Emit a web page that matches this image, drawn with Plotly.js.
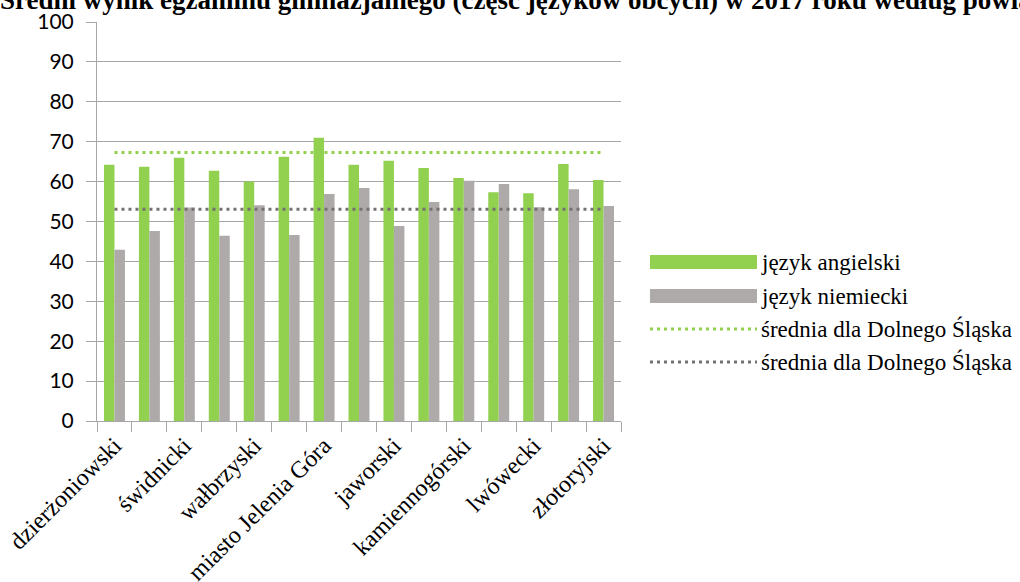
<!DOCTYPE html>
<html>
<head>
<meta charset="utf-8">
<script src="https://cdn.plot.ly/plotly-3.0.1.min.js"></script>
<style>html,body{margin:0;padding:0;background:#fff;}#chart{width:1020px;height:582px;}</style>
</head>
<body>
<div id="chart"></div>
<script>
// Data
var categories = ["dzierżoniowski","kłodzki","świdnicki","ząbkowicki","wałbrzyski","miasto Wałbrzych","miasto Jelenia Góra","jeleniogórski","jaworski","lubański","kamiennogórski","zgorzelecki","lwówecki","bolesławiecki","złotoryjski"];
var tickLabels = ["dzierżoniowski","","świdnicki","","wałbrzyski","","miasto Jelenia Góra","","jaworski","","kamiennogórski","","lwówecki","","złotoryjski"];
var angielski = [64.2,63.7,66.0,62.7,60.0,66.2,71.0,64.2,65.2,63.4,60.9,57.3,57.1,64.4,60.4];
var niemiecki = [42.9,47.6,53.5,46.4,54.1,46.6,56.9,58.4,48.9,54.9,60.2,59.4,53.6,58.1,53.9];
var sredniaAngielski = 67.3;
var sredniaNiemiecki = 53.1;
var seriesNames = ["język angielski","język niemiecki","średnia dla Dolnego Śląska","średnia dla Dolnego Śląska"];
var titleText = "Średni wynik egzaminu gimnazjalnego (część języków obcych) w 2017 roku według powiatów";

var green = "#92D050", grey = "#AEAAAA", greenDot = "#92D050", greyDot = "#767171";
var serif = "'Liberation Serif', 'Times New Roman', serif";

var traces = [
  {type:"bar", x:categories, y:angielski, name:seriesNames[0], marker:{color:green}, showlegend:false},
  {type:"bar", x:categories, y:niemiecki, name:seriesNames[1], marker:{color:grey}, showlegend:false},
  {type:"scatter", mode:"lines", x:categories, y:categories.map(function(){return sredniaAngielski;}), name:seriesNames[2], line:{color:greenDot, width:3, dash:"3px,4px"}, showlegend:false},
  {type:"scatter", mode:"lines", x:categories, y:categories.map(function(){return sredniaNiemiecki;}), name:seriesNames[3], line:{color:greyDot, width:3, dash:"3px,4px"}, showlegend:false}
];

// layout helpers (pixel -> paper)
var L=97, R=621, T=22, B=421;
function px(x){return (x-L)/(R-L);}
function py(y){return (B-y)/(B-T);}

var legRows = [262, 296, 329, 362];
var shapes = [
  {type:"rect", xref:"paper", yref:"paper", x0:px(650), x1:px(757), y0:py(legRows[0]-7), y1:py(legRows[0]+7), fillcolor:green, line:{width:0}},
  {type:"rect", xref:"paper", yref:"paper", x0:px(650), x1:px(757), y0:py(legRows[1]-7), y1:py(legRows[1]+7), fillcolor:grey, line:{width:0}},
  {type:"line", xref:"paper", yref:"paper", x0:px(650), x1:px(757), y0:py(legRows[2]), y1:py(legRows[2]), line:{color:greenDot, width:3, dash:"3px,4px"}},
  {type:"line", xref:"paper", yref:"paper", x0:px(650), x1:px(757), y0:py(legRows[3]), y1:py(legRows[3]), line:{color:greyDot, width:3, dash:"3px,4px"}}
];
var annotations = seriesNames.map(function(n,i){
  return {xref:"paper", yref:"paper", x:px(759), y:py(legRows[i]), xanchor:"left", yanchor:"middle", text:n, showarrow:false,
          font:{family:serif, size:23, color:"#000"}};
});

var layout = {
  width:1020, height:582,
  margin:{l:L, r:1020-R, t:T, b:582-B, pad:0},
  paper_bgcolor:"#fff", plot_bgcolor:"#fff",
  title:{text:titleText, x:0, xanchor:"left", xref:"container", y:1, yref:"container", yanchor:"middle",
         font:{family:serif, size:27, color:"#000", weight:"bold"}},
  barmode:"group", bargap:0.4, bargroupgap:0,
  showlegend:false,
  xaxis:{type:"category", tickmode:"array", tickvals:categories, ticktext:tickLabels, tickson:"boundaries",
         ticks:"outside", ticklen:10, tickcolor:"#A6A6A6", showline:true, linecolor:"#A6A6A6", linewidth:1,
         showgrid:false, tickangle:-45, tickfont:{family:serif, size:24, color:"#000"}},
  yaxis:{range:[0,100], dtick:10, tick0:0, ticks:"outside", ticklen:10, tickcolor:"#A6A6A6", ticklabelstandoff:8,
         showline:true, linecolor:"#A6A6A6", linewidth:1, gridcolor:"#A6A6A6", gridwidth:1, zeroline:false,
         tickfont:{family:"Lato", size:21, color:"#000"}},
  shapes:shapes, annotations:annotations
};

Plotly.newPlot("chart", traces, layout, {displayModeBar:false, staticPlot:true});
</script>
</body>
</html>
